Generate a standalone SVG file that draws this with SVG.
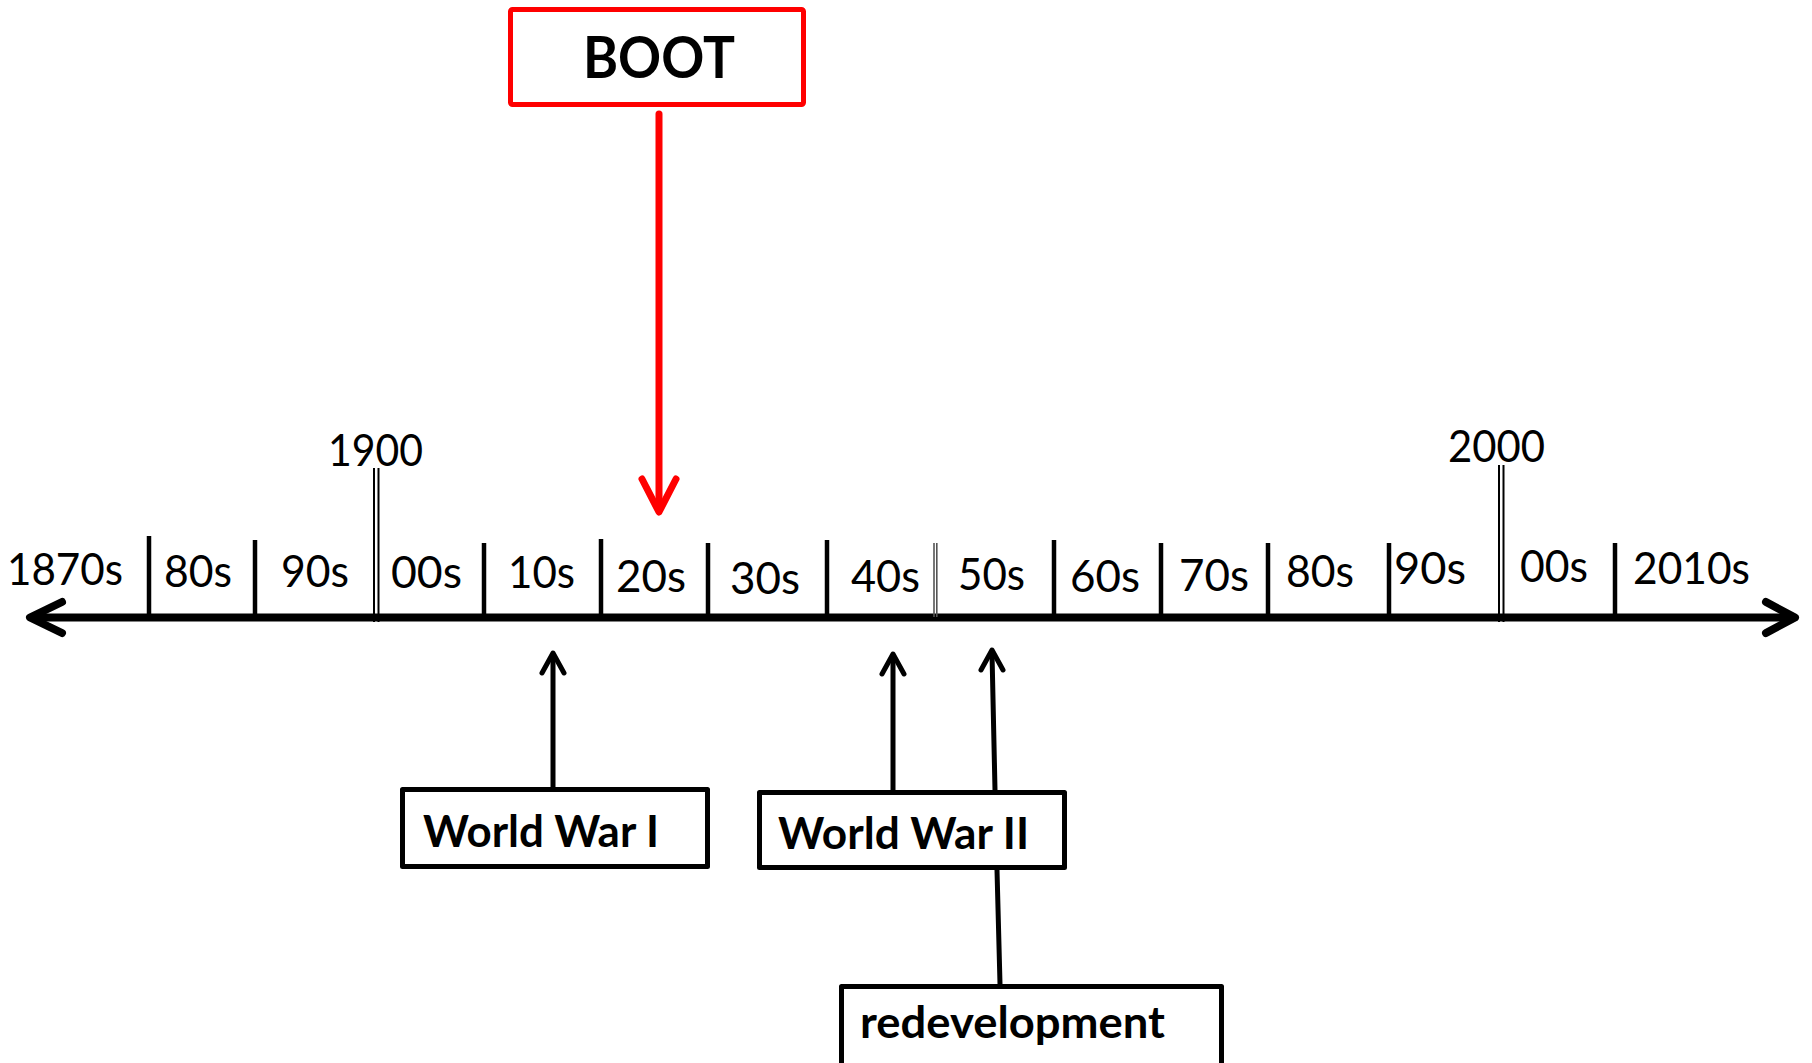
<svg xmlns="http://www.w3.org/2000/svg" width="1812" height="1063" viewBox="0 0 1812 1063">
<style>
.lbl{font-family:Lato,"Open Sans","Liberation Sans",sans-serif;font-size:44px;fill:#000}
.bold{font-family:Lato,"Open Sans","Liberation Sans",sans-serif;font-weight:bold;font-size:44px;fill:#000}
.box{fill:#fff;stroke:#000;stroke-width:5;stroke-linejoin:round}
.tick{stroke:#000;stroke-width:4.5}
.dbl{stroke:#000;stroke-width:2}
.blk{stroke:#000;stroke-width:5;fill:none;stroke-linecap:round;stroke-linejoin:round}
.red{stroke:#ff0000;stroke-width:7;fill:none;stroke-linecap:round;stroke-linejoin:round}
</style>
<rect width="1812" height="1063" fill="#fff"/>
<g id="timeline">
  <line x1="31" y1="617.5" x2="1793" y2="617.5" stroke="#000" stroke-width="8"/>
  <polyline points="62,602 30,617.5 62,633" stroke="#000" stroke-width="8" fill="none" stroke-linecap="round" stroke-linejoin="round"/>
  <polyline points="1766,602 1795,617.5 1766,633" stroke="#000" stroke-width="8" fill="none" stroke-linecap="round" stroke-linejoin="round"/>
  <line class="tick" x1="149" y1="536" x2="149" y2="617"/>
  <line class="tick" x1="255" y1="540" x2="255" y2="617"/>
  <line class="dbl" x1="374" y1="468" x2="374" y2="622"/>
  <line class="dbl" x1="378.5" y1="468" x2="378.5" y2="622"/>
  <line class="tick" x1="484" y1="543" x2="484" y2="617"/>
  <line class="tick" x1="601" y1="539" x2="601" y2="617"/>
  <line class="tick" x1="708" y1="543" x2="708" y2="617"/>
  <line class="tick" x1="827" y1="540" x2="827" y2="617"/>
  <line x1="934" y1="543" x2="934" y2="617" stroke="#555" stroke-width="1.6"/>
  <line x1="936.8" y1="543" x2="936.8" y2="617" stroke="#555" stroke-width="1.6"/>
  <line class="tick" x1="1054" y1="540" x2="1054" y2="617"/>
  <line class="tick" x1="1161" y1="543" x2="1161" y2="617"/>
  <line class="tick" x1="1268" y1="543" x2="1268" y2="617"/>
  <line class="tick" x1="1389" y1="543" x2="1389" y2="617"/>
  <line class="dbl" x1="1499" y1="465" x2="1499" y2="622"/>
  <line class="dbl" x1="1503.5" y1="465" x2="1503.5" y2="622"/>
  <line class="tick" x1="1615" y1="543" x2="1615" y2="617"/>
  <text class="lbl" x="7" y="585" textLength="116" lengthAdjust="spacingAndGlyphs">1870s</text>
  <text class="lbl" x="164" y="587" textLength="68" lengthAdjust="spacingAndGlyphs">80s</text>
  <text class="lbl" x="281" y="587" textLength="68" lengthAdjust="spacingAndGlyphs">90s</text>
  <text class="lbl" x="391" y="588" textLength="71" lengthAdjust="spacingAndGlyphs">00s</text>
  <text class="lbl" x="508" y="588" textLength="67" lengthAdjust="spacingAndGlyphs">10s</text>
  <text class="lbl" x="616" y="592" textLength="70" lengthAdjust="spacingAndGlyphs">20s</text>
  <text class="lbl" x="730" y="594" textLength="70" lengthAdjust="spacingAndGlyphs">30s</text>
  <text class="lbl" x="851" y="592" textLength="69" lengthAdjust="spacingAndGlyphs">40s</text>
  <text class="lbl" x="958" y="590" textLength="67" lengthAdjust="spacingAndGlyphs">50s</text>
  <text class="lbl" x="1070" y="592" textLength="70" lengthAdjust="spacingAndGlyphs">60s</text>
  <text class="lbl" x="1179" y="591" textLength="70" lengthAdjust="spacingAndGlyphs">70s</text>
  <text class="lbl" x="1286" y="587" textLength="68" lengthAdjust="spacingAndGlyphs">80s</text>
  <text class="lbl" x="1394" y="584" textLength="72" lengthAdjust="spacingAndGlyphs">90s</text>
  <text class="lbl" x="1520" y="582" textLength="68" lengthAdjust="spacingAndGlyphs">00s</text>
  <text class="lbl" x="1633" y="584" textLength="117" lengthAdjust="spacingAndGlyphs">2010s</text>
  <text class="lbl" x="328" y="466" textLength="95" lengthAdjust="spacingAndGlyphs">1900</text>
  <text class="lbl" x="1448" y="462" textLength="97" lengthAdjust="spacingAndGlyphs">2000</text>
</g>
<g id="boot">
  <rect x="510.5" y="9.5" width="293" height="95" rx="2" fill="#fff" stroke="#ff0000" stroke-width="5"/>
  <text x="583" y="78" font-family="Lato,'Open Sans','Liberation Sans',sans-serif" font-weight="bold" font-size="58" textLength="152" lengthAdjust="spacingAndGlyphs">BOOT</text>
</g>
<g id="ww1">
  <rect class="box" x="402.5" y="789.5" width="305" height="77"/>
  <text class="bold" x="423" y="847" textLength="236" lengthAdjust="spacingAndGlyphs">World War I</text>
</g>
<g id="ww2">
  <rect class="box" x="759.5" y="792.5" width="305" height="75"/>
  <text class="bold" x="778" y="849" textLength="251" lengthAdjust="spacingAndGlyphs">World War II</text>
</g>
<g id="redevelopment">
  <rect class="box" x="841.5" y="986.5" width="380" height="95"/>
  <text class="bold" x="860" y="1038" textLength="305" lengthAdjust="spacingAndGlyphs">redevelopment</text>
</g>
<g id="connectors">
  <line class="red" x1="659" y1="114" x2="659" y2="510"/>
  <polyline class="red" points="642,479 659,512 676,479"/>
  <line class="blk" x1="553" y1="787" x2="553" y2="656"/>
  <polyline class="blk" points="542,673 553,653 564,673"/>
  <line class="blk" x1="893" y1="790" x2="893" y2="657"/>
  <polyline class="blk" points="882,674 893,654 904,674"/>
  <line class="blk" x1="995" y1="790" x2="992" y2="653"/>
  <polyline class="blk" points="981,670 992,650 1003,670"/>
  <line class="blk" x1="997" y1="870" x2="1000" y2="984"/>
</g>
</svg>
